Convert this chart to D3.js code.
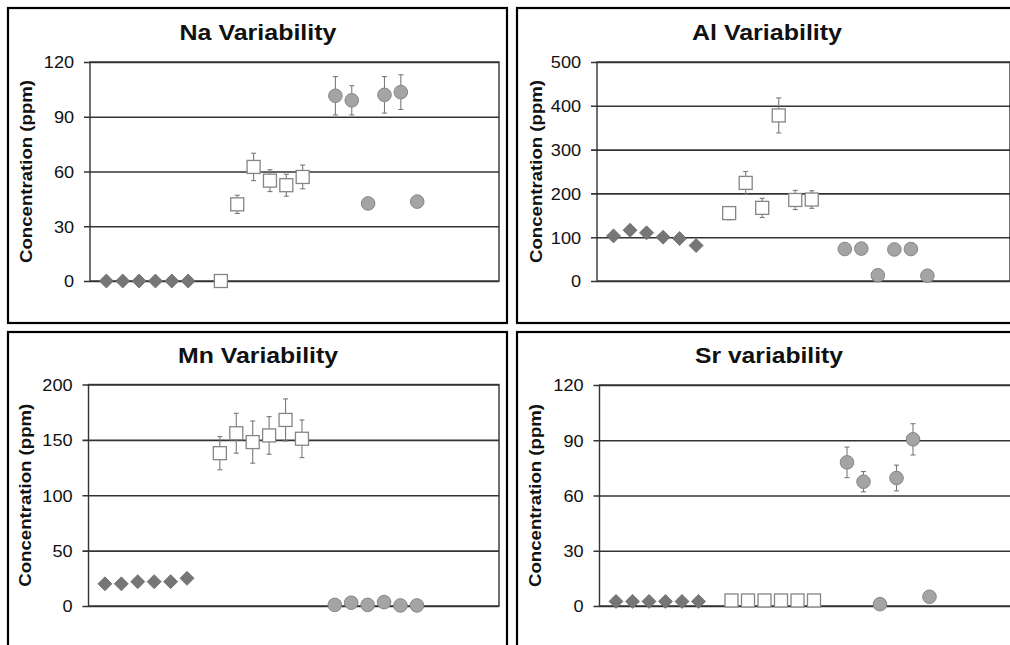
<!DOCTYPE html>
<html>
<head>
<meta charset="utf-8">
<script src="https://cdn.jsdelivr.net/npm/d3@7"></script>
<style>
  body { margin: 0; background: #fff; }
  svg { display: block; font-family: Arial, "Liberation Sans", sans-serif; }
</style>
</head>
<body>
<div id="chart"></div>
<script>
// x positions (Excel scatter, x axis 0..25)
var diamondX = [1, 2, 3, 4, 5, 6];
var squareX = [8, 9, 10, 11, 12, 13];
var circleX = [15, 16, 17, 18, 19, 20];

// Na
var naDiamonds = [0, 0, 0, 0, 0, 0];
var naSquares = [0, 42, 62.5, 55, 52.5, 57];
var naSquaresErr = [0, 5, 7.5, 6, 6, 6.5];
var naCircles = [101.5, 99, 42.5, 102, 103.5, 43.5];
var naCirclesErr = [10.5, 8, 0, 10, 9.5, 1];
var naTicks = [0, 30, 60, 90, 120];

// Al
var alDiamonds = [103, 116, 110, 100, 97, 81];
var alSquares = [155, 224, 167, 378, 185, 186];
var alSquaresErr = [15, 26, 22, 40, 22, 20];
var alCircles = [73, 74, 13, 72, 73, 12];
var alCirclesErr = [0, 0, 0, 0, 0, 0];
var alTicks = [0, 100, 200, 300, 400, 500];

// Mn
var mnDiamonds = [20, 20, 22, 22, 22, 25];
var mnSquares = [138, 156, 148, 154, 168, 151];
var mnSquaresErr = [15, 18, 19, 17, 19, 17];
var mnCircles = [1, 3, 1, 3.5, 0.5, 0.5];
var mnCirclesErr = [0, 0, 0, 0, 0, 0];
var mnTicks = [0, 50, 100, 150, 200];

// Sr
var srDiamonds = [2.5, 2.5, 2.5, 2.5, 2.5, 2.5];
var srSquares = [3, 3, 3, 3, 3, 3];
var srSquaresErr = [0, 0, 0, 0, 0, 0];
var srCircles = [78, 67.5, 1, 69.5, 90.5, 5];
var srCirclesErr = [8.3, 5.5, 0, 7, 8.5, 0];
var srTicks = [0, 30, 60, 90, 120];

var titles = ["Na Variability", "Al Variability", "Mn Variability", "Sr variability"];
var yLabel = "Concentration (ppm)";

var W = 1010, H = 645;
var svg = d3.select("#chart").append("svg").attr("width", W).attr("height", H);

function zip(xs, ys, es) {
  return xs.map(function (x, i) { return { x: x, y: ys[i], e: es ? es[i] : 0 }; });
}

var panels = [
  { title: titles[0], frame: [8, 8, 499, 315], plot: [90, 62, 409, 219], titleX: 258, titleY: 39.5, titleW: 157, labelX: 26,
    max: 120, ticks: naTicks, diamonds: zip(diamondX, naDiamonds), squares: zip(squareX, naSquares, naSquaresErr), circles: zip(circleX, naCircles, naCirclesErr) },
  { title: titles[1], frame: [517, 8, 500, 315], plot: [597, 62, 413, 219], titleX: 767, titleY: 39.5, titleW: 150, labelX: 536,
    max: 500, ticks: alTicks, diamonds: zip(diamondX, alDiamonds), squares: zip(squareX, alSquares, alSquaresErr), circles: zip(circleX, alCircles, alCirclesErr) },
  { title: titles[2], frame: [8, 332, 499, 330], plot: [88.5, 384.5, 410.5, 221.5], titleX: 258, titleY: 363, titleW: 160, labelX: 25,
    max: 200, ticks: mnTicks, diamonds: zip(diamondX, mnDiamonds), squares: zip(squareX, mnSquares, mnSquaresErr), circles: zip(circleX, mnCircles, mnCirclesErr) },
  { title: titles[3], frame: [517, 332, 500, 330], plot: [599.5, 385, 412.5, 221], titleX: 769, titleY: 363, titleW: 148, labelX: 535,
    max: 120, ticks: srTicks, diamonds: zip(diamondX, srDiamonds), squares: zip(squareX, srSquares, srSquaresErr), circles: zip(circleX, srCircles, srCirclesErr) }
];

panels.forEach(function (p) {
  // outer frame
  svg.append("rect")
    .attr("x", p.frame[0]).attr("y", p.frame[1])
    .attr("width", p.frame[2]).attr("height", p.frame[3])
    .attr("fill", "none").attr("stroke", "#000").attr("stroke-width", 2.2);

  // title
  svg.append("text")
    .attr("x", p.titleX).attr("y", p.titleY)
    .attr("text-anchor", "middle")
    .attr("font-size", 22).attr("font-weight", "bold")
    .attr("textLength", p.titleW).attr("lengthAdjust", "spacingAndGlyphs")
    .attr("fill", "#111")
    .text(p.title);

  var px = p.plot[0], py = p.plot[1], pw = p.plot[2], ph = p.plot[3];
  var x = d3.scaleLinear().domain([0, 25]).range([px, px + pw]);
  var y = d3.scaleLinear().domain([0, p.max]).range([py + ph, py]);

  // y axis with gridlines
  var g = svg.append("g").attr("transform", "translate(" + px + ",0)")
    .call(d3.axisLeft(y).tickValues(p.ticks).tickSize(-pw).tickPadding(0).tickFormat(d3.format("d")));
  g.select(".domain").remove();
  g.selectAll(".tick line").attr("stroke", "#333").attr("stroke-width", 1.6).attr("x1", -6).attr("x2", pw);
  g.selectAll(".tick text")
    .attr("x", -14.5).attr("dy", "0.36em")
    .attr("font-size", 16.5).attr("fill", "#111")
    .attr("font-family", "Arial, 'Liberation Sans', sans-serif")
    .attr("transform", "scale(1.1,1)");

  // plot area border
  svg.append("rect")
    .attr("x", px).attr("y", py).attr("width", pw).attr("height", ph)
    .attr("fill", "none").attr("stroke", "#333").attr("stroke-width", 1.4);

  // y label
  svg.append("text")
    .attr("transform", "translate(" + (p.labelX + 6) + "," + (py + ph / 2) + ") rotate(-90)")
    .attr("text-anchor", "middle")
    .attr("font-size", 17).attr("font-weight", "bold")
    .attr("textLength", 183).attr("lengthAdjust", "spacingAndGlyphs")
    .attr("fill", "#111")
    .text(yLabel);

  var marks = svg.append("g");

  // error bars
  var errs = p.squares.concat(p.circles).filter(function (d) { return d.e > 0; });
  var eb = marks.selectAll(".err").data(errs).enter().append("g").attr("class", "err")
    .attr("stroke", "#7a7a7a").attr("stroke-width", 1.1);
  eb.append("line")
    .attr("x1", function (d) { return x(d.x); }).attr("x2", function (d) { return x(d.x); })
    .attr("y1", function (d) { return y(d.y + d.e); }).attr("y2", function (d) { return y(d.y - d.e); });
  eb.append("line")
    .attr("x1", function (d) { return x(d.x) - 2.5; }).attr("x2", function (d) { return x(d.x) + 2.5; })
    .attr("y1", function (d) { return y(d.y + d.e); }).attr("y2", function (d) { return y(d.y + d.e); });
  eb.append("line")
    .attr("x1", function (d) { return x(d.x) - 2.5; }).attr("x2", function (d) { return x(d.x) + 2.5; })
    .attr("y1", function (d) { return y(d.y - d.e); }).attr("y2", function (d) { return y(d.y - d.e); });

  // diamonds
  marks.selectAll(".dia").data(p.diamonds).enter().append("path").attr("class", "dia")
    .attr("d", function (d) {
      var cx = x(d.x), cy = y(d.y), r = 7;
      return "M" + cx + "," + (cy - r) + "L" + (cx + r) + "," + cy + "L" + cx + "," + (cy + r) + "L" + (cx - r) + "," + cy + "Z";
    })
    .attr("fill", "#767676").attr("stroke", "#6a6a6a").attr("stroke-width", 0.8);

  // squares
  marks.selectAll(".sq").data(p.squares).enter().append("rect").attr("class", "sq")
    .attr("x", function (d) { return x(d.x) - 6.5; })
    .attr("y", function (d) { return y(d.y) - 6.5; })
    .attr("width", 13).attr("height", 13)
    .attr("fill", "#fff").attr("stroke", "#858585").attr("stroke-width", 1.3);

  // circles
  marks.selectAll(".circ").data(p.circles).enter().append("circle").attr("class", "circ")
    .attr("cx", function (d) { return x(d.x); })
    .attr("cy", function (d) { return y(d.y); })
    .attr("r", 6.8)
    .attr("fill", "#a4a4a4").attr("stroke", "#868686").attr("stroke-width", 1);
});
</script>
</body>
</html>
